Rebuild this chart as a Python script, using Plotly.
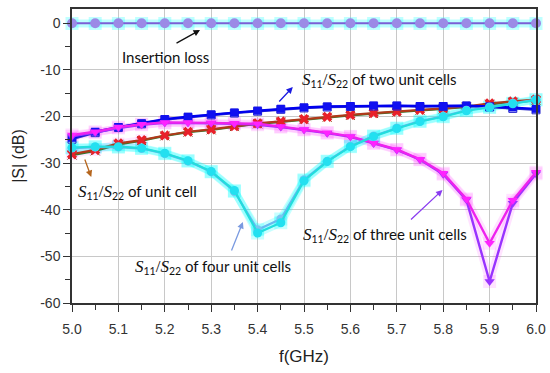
import plotly.graph_objects as go

freq = [5.0, 5.05, 5.1, 5.15, 5.2, 5.25, 5.3, 5.35, 5.4, 5.45, 5.5,
        5.55, 5.6, 5.65, 5.7, 5.75, 5.8, 5.85, 5.9, 5.95, 6.0]

x_ticks = [5.0, 5.1, 5.2, 5.3, 5.4, 5.5, 5.6, 5.7, 5.8, 5.9, 6.0]
x_tick_text = ["5.0", "5.1", "5.2", "5.3", "5.4", "5.5", "5.6", "5.7", "5.8", "5.9", "6.0"]
y_ticks = [0, -10, -20, -30, -40, -50, -60]
y_tick_text = ["0", "-10", "-20", "-30", "-40", "-50", "-60"]

insertion_s21 = [-0.05, -0.05, -0.05, -0.05, -0.05, -0.05, -0.05, -0.05, -0.05, -0.05, -0.05,
                 -0.05, -0.05, -0.05, -0.05, -0.05, -0.05, -0.05, -0.05, -0.05, -0.05]
insertion_s12 = [-0.1, -0.1, -0.1, -0.1, -0.1, -0.1, -0.1, -0.1, -0.1, -0.1, -0.1,
                 -0.1, -0.1, -0.1, -0.1, -0.1, -0.1, -0.1, -0.1, -0.1, -0.1]

unit_s11 = [-28.1, -27.2, -25.8, -25.1, -24.1, -23.3, -22.8, -22.1, -21.5, -21.1, -20.6,
            -20.1, -19.7, -19.3, -19.0, -18.6, -18.3, -17.9, -17.2, -16.8, -16.4]
unit_s22 = [-28.3, -27.4, -26.0, -25.2, -24.2, -23.4, -22.9, -22.2, -21.6, -21.2, -20.7,
            -20.2, -19.8, -19.4, -19.1, -18.7, -18.4, -18.0, -17.4, -17.0, -16.6]

two_s11 = [-24.6, -23.3, -22.3, -21.5, -20.6, -20.1, -19.6, -19.2, -18.8, -18.4, -18.1,
           -17.9, -17.8, -17.7, -17.7, -17.8, -17.8, -17.7, -17.9, -18.1, -18.4]
two_s22 = [-24.9, -23.5, -22.4, -21.6, -20.7, -20.2, -19.7, -19.3, -18.9, -18.5, -18.2,
           -18.0, -17.9, -17.8, -17.8, -17.9, -17.9, -17.8, -18.0, -18.3, -18.6]

three_s11 = [-24.0, -23.3, -22.3, -21.7, -21.3, -21.3, -21.4, -21.5, -21.6, -22.2, -22.8,
             -23.5, -24.3, -25.7, -27.1, -29.2, -32.2, -37.7, -47.2, -38.0, -32.0]
three_s22 = [-24.3, -23.5, -22.5, -21.8, -21.4, -21.4, -21.5, -21.6, -21.8, -22.3, -22.9,
             -23.6, -24.4, -25.8, -27.2, -29.3, -32.4, -37.9, -55.4, -38.6, -32.3]

four_s11 = [-26.7, -26.5, -26.5, -26.8, -27.9, -29.5, -31.8, -35.9, -45.0, -42.8, -33.8,
            -29.7, -26.5, -24.3, -22.6, -21.1, -20.1, -18.8, -18.1, -17.3, -16.5]
four_s22 = [-26.8, -26.6, -26.6, -26.9, -28.0, -29.6, -31.9, -36.1, -44.3, -42.0, -33.6,
            -29.6, -26.4, -24.2, -22.5, -21.0, -20.0, -18.7, -18.0, -17.2, -16.4]

fig = go.Figure()

def glow(y, color, width=9, msize=13):
    fig.add_trace(go.Scatter(x=freq[:len(y)], y=y, mode="lines+markers",
                             line=dict(color=color, width=width),
                             marker=dict(color=color, size=msize, symbol="square"),
                             cliponaxis=False, showlegend=False, hoverinfo="skip"))

# glows
glow(insertion_s12, "rgba(0,255,255,0.25)", 8, 13)
glow(three_s11, "rgba(255,80,255,0.16)", 8, 13)
glow(three_s22, "rgba(255,80,255,0.16)", 8, 13)
glow(four_s11, "rgba(0,255,255,0.22)", 8, 13)
glow(four_s22, "rgba(0,255,255,0.22)", 8, 13)
glow(unit_s11[:4], "rgba(255,80,255,0.12)", 8, 12)

def series(y, lcolor, mcolor, symbol, msize=8, width=2.2):
    fig.add_trace(go.Scatter(x=freq[:len(y)], y=y, mode="lines+markers",
                             line=dict(color=lcolor, width=width),
                             marker=dict(color=mcolor, size=msize, symbol=symbol),
                             cliponaxis=False, showlegend=False))

series(unit_s22, "#2e7d32", "#8b4513", "x-thin-open", 9, 2.2)
series(unit_s11, "#b03a1a", "#e8202a", "x", 9, 2.2)
series(two_s22, "#3333cc", "#2222cc", "square-open", 8, 2.4)
series(two_s11, "#0000ee", "#1010f0", "square", 8, 2.4)
series(three_s22, "#9933ff", "#9933ff", "triangle-down", 9, 2.4)
series(three_s11, "#ee22ee", "#ff22ff", "triangle-down", 9, 2.4)
series(four_s22, "#6ab8f0", "#7cc4f0", "circle", 9, 2.2)
series(four_s11, "#22dddd", "#22e0f0", "circle", 9, 2.2)
series(insertion_s21, "#7b5fd6", "#9b8ae6", "circle", 10, 2.2)

sans = "Lato"

def label(px, py, parts):
    f = 5 + (px - 71.7) / 465
    d = (23 - py) / 4.667
    fig.add_annotation(x=f, y=d, xref="x", yref="y", text=parts, showarrow=False,
                       xanchor="left", yanchor="middle",
                       font=dict(family=sans, size=15, color="#111111"))

def arrow(hx, hy, tx, ty, color):
    f = 5 + (hx - 71.7) / 465
    d = (23 - hy) / 4.667
    fig.add_annotation(x=f, y=d, xref="x", yref="y", ax=tx - hx, ay=ty - hy,
                       showarrow=True, arrowhead=2, arrowsize=1, arrowwidth=1.3,
                       arrowcolor=color, text="")

S = "<i><span style='font-family:Liberation Serif;font-size:17px'>S</span></i><sub>11</sub>" \
    "<span style='font-family:Liberation Serif;font-size:17px'>/</span>" \
    "<i><span style='font-family:Liberation Serif;font-size:17px'>S</span></i><sub>22</sub>"

label(120, 57, "Insertion loss")
label(300, 80, S + " of two unit cells")
label(76, 192, S + " of unit cell")
label(133, 267, S + " of four unit cells")
label(301, 235, S + " of three unit cells")

arrow(200, 30, 175, 44, "#111111")
arrow(293, 87, 278, 103, "#1a1ae0")
arrow(91, 177, 84, 158, "#b5651d")
arrow(243, 222, 231, 252, "#7a9ae0")
arrow(443, 190, 410, 221, "#8a3cf0")

tickfont = dict(family="Liberation Sans", size=14, color="#333333")

fig.update_layout(
    width=550, height=373,
    margin=dict(l=72, r=14, t=9, b=70, autoexpand=False),
    paper_bgcolor="white", plot_bgcolor="white",
    xaxis=dict(range=[5.0, 6.0], tickmode="array", automargin=False,
               tickvals=x_ticks, ticktext=x_tick_text,
               ticks="outside", ticklen=7, tickwidth=1.2, tickcolor="#333333",
               minor=dict(dtick=0.05, ticks="outside", ticklen=5, tickcolor="#333333", showgrid=False),
               showgrid=True, gridcolor="#c8c8c8", gridwidth=1,
               showline=True, linecolor="#333333", linewidth=1.5, mirror=True,
               zeroline=False, tickfont=tickfont, ticklabelstandoff=5,
               title=dict(text="f(GHz)", font=dict(family="Liberation Sans", size=17, color="#222222"),
                          standoff=15)),
    yaxis=dict(range=[-60, 3], tickmode="array", automargin=False,
               tickvals=y_ticks, ticktext=y_tick_text,
               ticks="outside", ticklen=7, tickwidth=1.2, tickcolor="#333333",
               minor=dict(tickvals=[-5, -15, -25, -35, -45, -55], ticks="outside", ticklen=5,
                          tickcolor="#333333", showgrid=False),
               showgrid=True, gridcolor="#c8c8c8", gridwidth=1,
               showline=True, linecolor="#333333", linewidth=1.5, mirror=True,
               zeroline=False, tickfont=tickfont,
               title=dict(text="|S| (dB)", font=dict(family="Liberation Sans", size=16, color="#222222"),
                          standoff=12)),
)

fig.write_html("out.html", config={"displayModeBar": False},
               post_script="document.body.style.margin='0';document.body.style.overflow='hidden';")
